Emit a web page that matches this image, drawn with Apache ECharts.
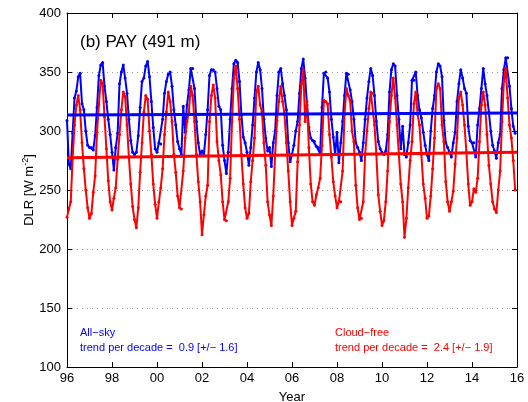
<!DOCTYPE html>
<html>
<head>
<meta charset="utf-8">
<script src="https://cdn.jsdelivr.net/npm/echarts@6/dist/echarts.min.js"></script>
<style>
  html, body { margin: 0; padding: 0; background: #fff; }
  #chart { width: 528px; height: 402px; }
</style>
</head>
<body>
<div id="chart"></div>
<script>
// monthly means, one row per year (Jan..Dec), 1996-2015
const startYear = 1996;
const allSky = [
  [309, 272, 268, 298, 328, 334, 346, 349, 323, 318, 300, 288],
  [286, 286, 284, 296, 320, 347, 356, 358, 338, 325, 310, 297],
  [282, 267, 286, 298, 340, 350, 356, 345, 332, 310, 292, 282],
  [280, 282, 296, 320, 342, 345, 355, 359, 346, 325, 303, 285],
  [282, 290, 289, 310, 332, 342, 348, 350, 338, 318, 305, 291],
  [285, 280, 321, 299, 322, 335, 353, 353, 336, 308, 290, 280],
  [283, 280, 297, 318, 347, 352, 352, 350, 336, 321, 318, 288],
  [275, 264, 282, 310, 336, 357, 360, 358, 342, 314, 295, 290],
  [282, 271, 286, 305, 328, 350, 358, 352, 336, 310, 294, 283],
  [286, 270, 290, 300, 330, 350, 353, 340, 330, 318, 290, 274],
  [280, 288, 300, 308, 332, 353, 361, 345, 322, 303, 294, 292],
  [291, 287, 286, 281, 320, 349, 350, 345, 333, 310, 295, 280],
  [299, 273, 290, 308, 330, 349, 348, 335, 325, 310, 290, 286],
  [282, 275, 290, 310, 328, 342, 353, 347, 330, 308, 291, 285],
  [282, 280, 283, 297, 333, 352, 357, 355, 330, 310, 285, 304],
  [280, 278, 290, 305, 343, 343, 350, 330, 318, 311, 299, 288],
  [280, 275, 300, 319, 330, 350, 357, 355, 346, 309, 290, 286],
  [282, 278, 290, 299, 325, 340, 352, 345, 336, 332, 304, 292],
  [290, 290, 278, 305, 319, 336, 353, 340, 330, 316, 300, 288],
  [283, 277, 290, 297, 336, 352, 362, 362, 338, 319, 304, 298]
];
const cloudFree = [
  [227, 234, 240, 277, 305, 322, 330, 318, 290, 268, 250, 235],
  [226, 230, 248, 262, 299, 322, 343, 340, 312, 285, 258, 240],
  [233, 243, 252, 276, 297, 318, 333, 329, 305, 278, 255, 236],
  [225, 218, 235, 265, 290, 316, 330, 327, 300, 280, 255, 238],
  [226, 240, 252, 268, 297, 316, 333, 325, 308, 280, 265, 245],
  [235, 234, 266, 294, 308, 316, 338, 330, 308, 280, 257, 240],
  [212, 229, 245, 254, 308, 330, 339, 328, 291, 275, 263, 240],
  [225, 224, 240, 260, 308, 345, 355, 336, 310, 280, 255, 235],
  [226, 230, 257, 275, 294, 333, 338, 322, 316, 290, 271, 240],
  [229, 220, 245, 280, 309, 325, 338, 325, 314, 290, 266, 240],
  [220, 226, 232, 274, 305, 340, 352, 308, 325, 286, 255, 240],
  [237, 246, 252, 260, 288, 326, 325, 323, 297, 278, 257, 245],
  [235, 240, 240, 266, 314, 336, 330, 326, 300, 291, 254, 235],
  [225, 226, 240, 280, 300, 319, 333, 332, 305, 280, 246, 232],
  [220, 224, 240, 266, 308, 330, 345, 328, 305, 280, 255, 240],
  [210, 226, 252, 275, 291, 323, 333, 314, 305, 280, 255, 243],
  [226, 228, 245, 268, 294, 336, 340, 336, 305, 291, 257, 240],
  [232, 240, 249, 272, 294, 328, 333, 322, 305, 282, 255, 237],
  [240, 251, 248, 260, 291, 322, 333, 322, 297, 271, 255, 240],
  [234, 231, 250, 266, 308, 342, 353, 328, 305, 294, 275, 250]
];
// linear trend end points [start, end]
const trendYears = [1996, 2016];
const trendAllSky = [313.5, 315.3];
const trendCloudFree = [277.3, 281.9];

const toPoints = (rows) => {
  const pts = [];
  rows.forEach((row, yi) => {
    row.forEach((v, m) => pts.push([startYear + yi + m / 12, v]));
  });
  return pts;
};

const BLUE = "#0000ff";
const RED = "#ff0000";
const FONT = "Liberation Sans";

const chart = echarts.init(document.getElementById("chart"), null, { renderer: "canvas" });

const boxAxis = {
  axisLine: { show: true, lineStyle: { color: "#000", width: 1 } },
  axisTick: { show: true, inside: true, length: 5, lineStyle: { color: "#000" } },
};

chart.setOption({
  animation: false,
  textStyle: { fontFamily: FONT },
  grid: {
    left: 67, right: 11, top: 13, bottom: 35, show: false,
    containLabel: false, outerBoundsMode: "none",
  },
  xAxis: [
    {
      type: "value", min: 1996, max: 2016, interval: 2, position: "bottom",
      ...boxAxis,
      axisLabel: {
        color: "#000", fontSize: 13, margin: 5,
        formatter: (v) => String(v % 100).padStart(2, "0"),
      },
      splitLine: { show: false },
      name: "Year", nameLocation: "middle", nameGap: 24, nameMoveOverlap: false,
      nameTextStyle: { color: "#000", fontSize: 13 },
    },
    {
      type: "value", min: 1996, max: 2016, interval: 2, position: "top",
      ...boxAxis, axisLabel: { show: false }, splitLine: { show: false },
    },
  ],
  yAxis: [
    {
      type: "value", min: 100, max: 400, interval: 50, position: "left",
      ...boxAxis,
      axisLabel: { color: "#000", fontSize: 13, margin: 6 },
      splitLine: {
        show: true,
        lineStyle: { color: "#9a9a9a", type: [1, 4], width: 1 },
      },
      name: "DLR [W m{sup|-2}]", nameLocation: "middle", nameGap: 29, nameRotate: 90,
      nameMoveOverlap: false,
      nameTextStyle: {
        color: "#000", fontSize: 13,
        rich: { sup: { fontSize: 9, verticalAlign: "top", padding: [0, 0, 8, 0], color: "#000" } },
      },
    },
    {
      type: "value", min: 100, max: 400, interval: 50, position: "right",
      ...boxAxis, axisLabel: { show: false }, splitLine: { show: false },
    },
  ],
  series: [
    {
      name: "All-sky", type: "line", data: toPoints(allSky),
      symbol: "circle", symbolSize: 3, showSymbol: true,
      lineStyle: { color: BLUE, width: 2 }, itemStyle: { color: BLUE },
      z: 3,
    },
    {
      name: "Cloud-free", type: "line", data: toPoints(cloudFree),
      symbol: "circle", symbolSize: 3, showSymbol: true,
      lineStyle: { color: RED, width: 2 }, itemStyle: { color: RED },
      z: 4,
    },
    {
      name: "All-sky trend", type: "line", symbol: "none",
      data: trendYears.map((x, i) => [x, trendAllSky[i]]),
      lineStyle: { color: BLUE, width: 3 }, z: 5,
    },
    {
      name: "Cloud-free trend", type: "line", symbol: "none",
      data: trendYears.map((x, i) => [x, trendCloudFree[i]]),
      lineStyle: { color: RED, width: 3 }, z: 5,
    },
  ],
  graphic: [
    { type: "text", left: 80, top: 34, style: { text: "(b) PAY (491 m)", fontSize: 17, fontFamily: FONT, fill: "#000" } },
    { type: "text", left: 80, top: 327, style: { text: "All\u2212sky", fontSize: 11, fontFamily: FONT, fill: BLUE } },
    { type: "text", left: 80, top: 342, style: { text: "trend per decade =  0.9 [+/\u2212 1.6]", fontSize: 11, fontFamily: FONT, fill: BLUE } },
    { type: "text", left: 335, top: 327, style: { text: "Cloud\u2212free", fontSize: 11, fontFamily: FONT, fill: RED } },
    { type: "text", left: 335, top: 342, style: { text: "trend per decade =  2.4 [+/\u2212 1.9]", fontSize: 11, fontFamily: FONT, fill: RED } },
  ],
});
</script>
</body>
</html>
